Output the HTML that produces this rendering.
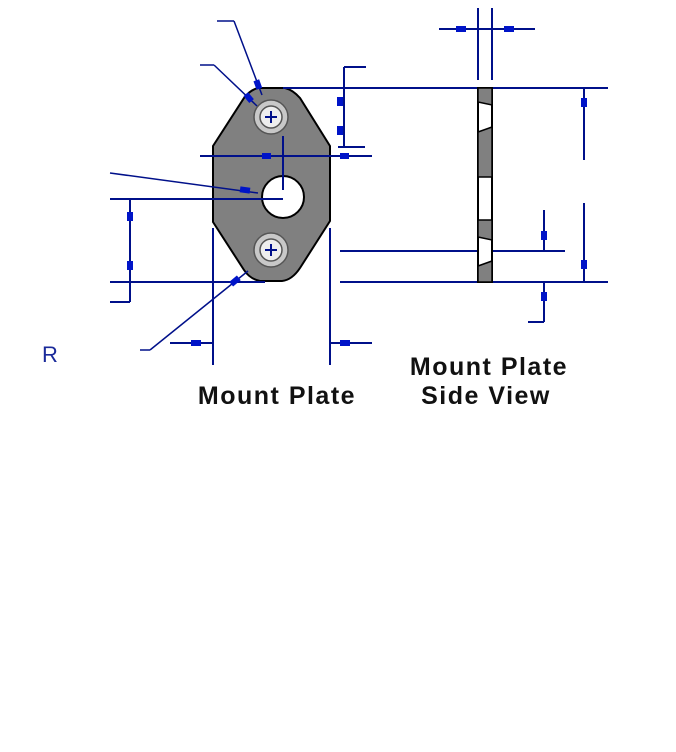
<!DOCTYPE html>
<html><head><style>
html,body{margin:0;padding:0;background:#fff;width:676px;height:752px;overflow:hidden}
svg{display:block}
text{font-family:"Liberation Sans",sans-serif}
</style></head><body>
<svg width="676" height="752" viewBox="0 0 676 752">
<g stroke="#00108a" stroke-width="2" fill="none">
<!-- plate -->
<path d="M258,88 L285,88 Q293,90 300,98 L330,146 L330,221 L300,268 Q292,280 282,281 L260,281 Q250,279 244,270 L213,222 L213,146 L244,98 Q250,90 258,88 Z" fill="#808080" stroke="#000" stroke-width="2"/>
<circle cx="271" cy="117" r="17" fill="#c8c8c8" stroke="#555" stroke-width="1.5"/>
<circle cx="271" cy="117" r="11" fill="#eee" stroke="#555" stroke-width="1.5"/>
<circle cx="271" cy="250" r="17" fill="#c8c8c8" stroke="#555" stroke-width="1.5"/>
<circle cx="271" cy="250" r="11" fill="#eee" stroke="#555" stroke-width="1.5"/>
<circle cx="283" cy="197" r="21" fill="#fff" stroke="#000" stroke-width="2"/>
<path d="M265,117h12M271,111v12M265,250h12M271,244v12"/>
<!-- dims -->
<path d="M283,88H608M344,67h22M344,67V146M338,147h27M200,156H372M283,136V190M110,199H283M130,199V302M110,302h20M110,282H265M340,282H608M340,251H565M213,228V365M330,228V365M170,343h43M330,343h42"/>
<path d="M234,21h-17M234,21L262,95M214,65h-14M214,65L257,106M110,173L258,193M150,350h-10M150,350L248,271" stroke-width="1.5"/>
<!-- side view -->
<rect x="478" y="88" width="14" height="194" fill="#fff" stroke="#000" stroke-width="2"/>
<path d="M478,88h14v17l-14,-3zM478,132l14,-5v50h-14zM478,220h14v20l-14,-3zM478,266l14,-5v21h-14z" fill="#808080" stroke="#000" stroke-width="1.5"/>
<path d="M478,8V80M492,8V80M439,29H535M584,88V160M584,203V282M544,210V251M544,282V322M528,322h16"/>
</g>
<g fill="#0014c8">
<rect x="337" y="97" width="6" height="9"/><rect x="337" y="126" width="6" height="9"/>
<rect x="262" y="153" width="9" height="6"/><rect x="340" y="153" width="9" height="6"/>
<rect x="127" y="212" width="6" height="9"/><rect x="127" y="261" width="6" height="9"/>
<rect x="191" y="340" width="10" height="6"/><rect x="340" y="340" width="10" height="6"/>
<rect x="456" y="26" width="10" height="6"/><rect x="504" y="26" width="10" height="6"/>
<rect x="581" y="98" width="6" height="9"/><rect x="581" y="260" width="6" height="9"/>
<rect x="541" y="231" width="6" height="9"/><rect x="541" y="292" width="6" height="9"/>
<rect x="255" y="80" width="6" height="9" transform="rotate(-20 258 85)"/>
<rect x="246" y="93" width="6" height="9" transform="rotate(-40 249 98)"/>
<rect x="240" y="187" width="10" height="6" transform="rotate(8 245 190)"/>
<rect x="230" y="278" width="10" height="6" transform="rotate(-40 235 281)"/>
</g>
<text x="42" y="362" font-size="22" fill="#1a2a9a">R</text>
<text x="277" y="404" font-size="25" font-weight="bold" letter-spacing="1.5" text-anchor="middle" fill="#111">Mount Plate</text>
<text x="489" y="375" font-size="25" font-weight="bold" letter-spacing="1.5" text-anchor="middle" fill="#111">Mount Plate</text>
<text x="486" y="404" font-size="25" font-weight="bold" letter-spacing="1.5" text-anchor="middle" fill="#111">Side View</text>
</svg>
</body></html>
